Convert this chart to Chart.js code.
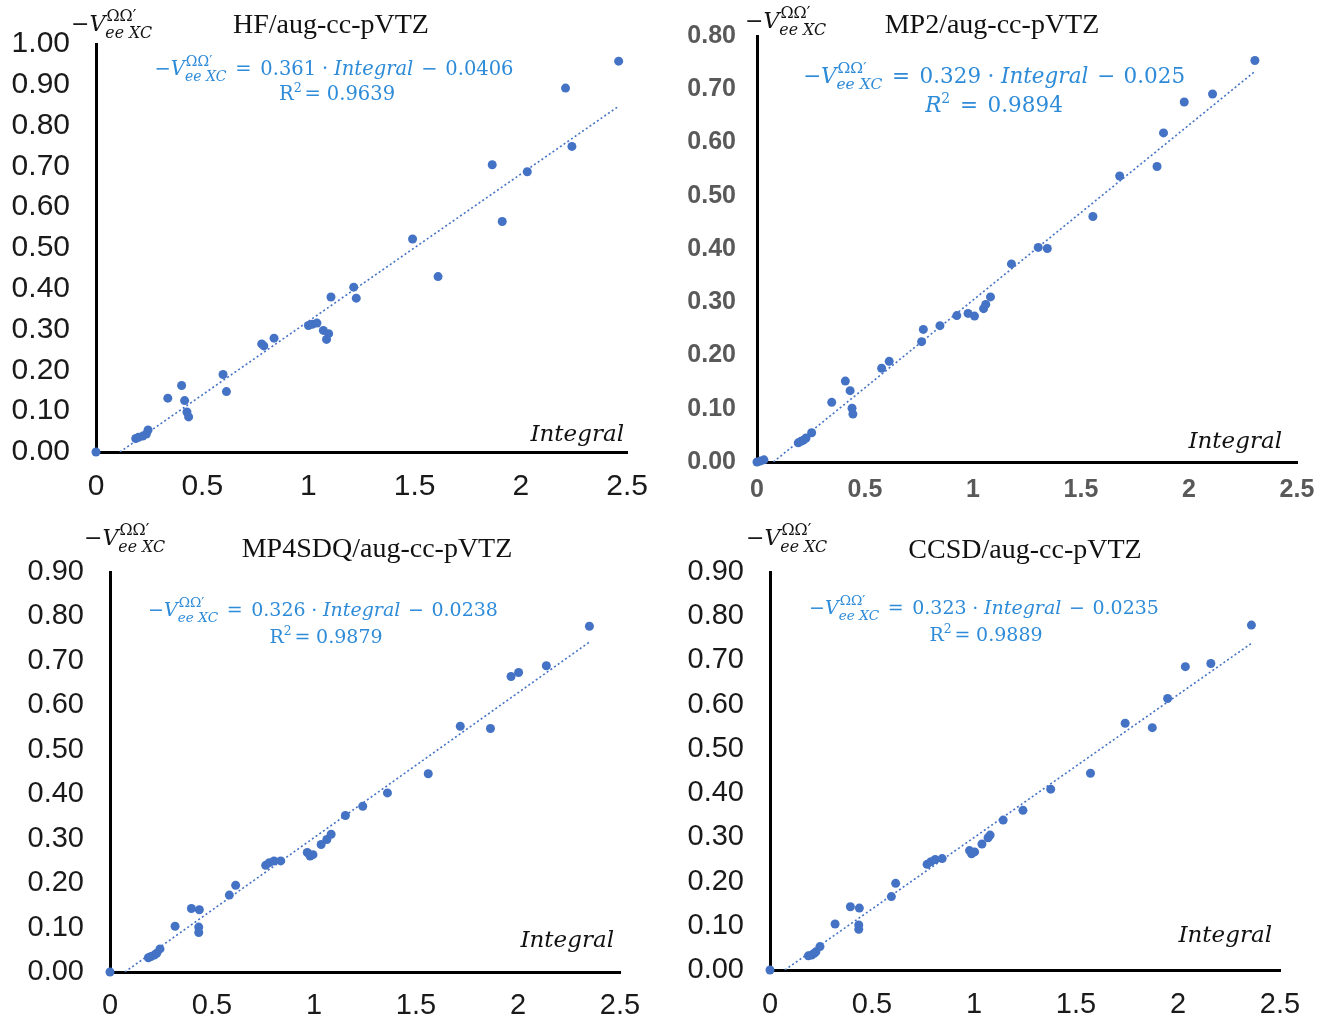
<!DOCTYPE html>
<html>
<head>
<meta charset="utf-8">
<script src="https://cdn.jsdelivr.net/npm/chart.js@4.4.0/dist/chart.umd.min.js"></script>
<style>
  body { margin: 0; background: #fff; }
  #wrap { position: relative; width: 1335px; height: 1027px; overflow: hidden; }
  canvas { position: absolute; }
</style>
</head>
<body>
<div id="wrap">
  <canvas id="hf" width="665" height="512" style="left:0;top:0"></canvas>
  <canvas id="mp2" width="668" height="512" style="left:667px;top:0"></canvas>
  <canvas id="mp4" width="665" height="515" style="left:0;top:512px"></canvas>
  <canvas id="ccsd" width="668" height="515" style="left:667px;top:512px"></canvas>
</div>
<script>
// ---- data ----
// HF/aug-cc-pVTZ
var hf_x = [0, 0.187, 0.20, 0.22, 0.237, 0.245, 0.338, 0.403, 0.417, 0.428, 0.436, 0.598, 0.614, 0.78, 0.79, 0.838, 1.0, 1.018, 1.04, 1.07, 1.085, 1.095, 1.106, 1.213, 1.225, 1.49, 1.61, 1.865, 1.912, 2.03, 2.21, 2.24, 2.46];
var hf_y = [0, 0.033, 0.036, 0.039, 0.044, 0.054, 0.132, 0.163, 0.126, 0.098, 0.086, 0.19, 0.148, 0.265, 0.26, 0.279, 0.31, 0.313, 0.316, 0.298, 0.276, 0.29, 0.38, 0.404, 0.377, 0.522, 0.43, 0.704, 0.565, 0.687, 0.892, 0.749, 0.958];
var hf_fit = [0.361, -0.0406]; // 傾き, 切片
var hf_r2 = '0.9639';

// MP2/aug-cc-pVTZ
var mp2_x = [0, 0.017, 0.032, 0.191, 0.204, 0.215, 0.227, 0.253, 0.346, 0.409, 0.431, 0.44, 0.444, 0.577, 0.612, 0.762, 0.77, 0.847, 0.925, 0.977, 1.007, 1.049, 1.059, 1.081, 1.178, 1.302, 1.344, 1.555, 1.679, 1.852, 1.882, 1.978, 2.109, 2.305];
var mp2_y = [0, 0.002, 0.004, 0.036, 0.039, 0.041, 0.045, 0.055, 0.112, 0.152, 0.134, 0.101, 0.09, 0.176, 0.189, 0.226, 0.249, 0.256, 0.275, 0.279, 0.274, 0.288, 0.296, 0.31, 0.372, 0.403, 0.401, 0.461, 0.537, 0.555, 0.618, 0.676, 0.691, 0.754];
var mp2_fit = [0.329, -0.025];
var mp2_r2 = '0.9894';

// MP4SDQ/aug-cc-pVTZ
var mp4_x = [0, 0.188, 0.201, 0.217, 0.229, 0.245, 0.319, 0.399, 0.438, 0.435, 0.435, 0.585, 0.616, 0.763, 0.781, 0.804, 0.837, 0.967, 0.981, 0.995, 1.035, 1.063, 1.084, 1.154, 1.239, 1.36, 1.56, 1.717, 1.865, 1.966, 2.003, 2.139, 2.35];
var mp4_y = [0, 0.032, 0.035, 0.038, 0.042, 0.052, 0.103, 0.143, 0.14, 0.101, 0.089, 0.173, 0.195, 0.24, 0.246, 0.25, 0.25, 0.269, 0.261, 0.264, 0.287, 0.298, 0.31, 0.352, 0.373, 0.403, 0.446, 0.553, 0.548, 0.665, 0.674, 0.689, 0.778];
var mp4_fit = [0.326, -0.0238];
var mp4_r2 = '0.9879';

// CCSD/aug-cc-pVTZ
var ccsd_x = [0, 0.188, 0.204, 0.217, 0.225, 0.245, 0.319, 0.394, 0.438, 0.435, 0.435, 0.595, 0.616, 0.77, 0.789, 0.81, 0.844, 0.978, 0.988, 1.003, 1.039, 1.069, 1.079, 1.143, 1.24, 1.376, 1.571, 1.741, 1.874, 1.949, 2.036, 2.161, 2.36];
var ccsd_y = [0, 0.032, 0.034, 0.038, 0.041, 0.053, 0.104, 0.143, 0.14, 0.102, 0.092, 0.166, 0.196, 0.239, 0.245, 0.25, 0.252, 0.27, 0.263, 0.267, 0.285, 0.299, 0.305, 0.339, 0.361, 0.409, 0.445, 0.558, 0.548, 0.614, 0.686, 0.693, 0.78];
var ccsd_fit = [0.323, -0.0235];
var ccsd_r2 = '0.9889';

// 目盛り
var x_ticks = [0, 0.5, 1, 1.5, 2, 2.5];
var y_ticks_10 = [0, 0.1, 0.2, 0.3, 0.4, 0.5, 0.6, 0.7, 0.8, 0.9, 1.0];
var y_ticks_08 = [0, 0.1, 0.2, 0.3, 0.4, 0.5, 0.6, 0.7, 0.8];
var y_ticks_09 = [0, 0.1, 0.2, 0.3, 0.4, 0.5, 0.6, 0.7, 0.8, 0.9];

var DOT = '#4472c4';
var EQ = '#2e8bd8';
var MATH = '"DejaVu Serif", serif';

//リッチテキスト（上付き・下付き）
function fontStr(it, size) { return (it ? 'italic ' : '') + size + 'px ' + MATH; }
function partWidth(ctx, p, fs) {
    if (typeof p === 'string') { ctx.font = fontStr(false, fs); return ctx.measureText(p).width; }
    if (p.sp != null) return p.sp * fs;
    if (p.i != null) { ctx.font = fontStr(true, fs); return ctx.measureText(p.i).width; }
    if (p.up != null) { ctx.font = fontStr(false, fs * 0.65); return ctx.measureText(p.up).width; }
    var s = fs * 0.72;
    ctx.font = fontStr(false, s); var w1 = ctx.measureText(p.sup).width;
    ctx.font = fontStr(true, s); var w2 = ctx.measureText(p.sub).width;
    return Math.max(w1, w2);
}
function drawRich(ctx, parts, x, y, fs, color, align) {
    var total = 0;
    parts.forEach(function(p) { total += partWidth(ctx, p, fs); });
    var cx = align === 'center' ? x - total / 2 : (align === 'right' ? x - total : x);
    ctx.fillStyle = color;
    ctx.textAlign = 'left';
    ctx.textBaseline = 'alphabetic';
    parts.forEach(function(p) {
        var w = partWidth(ctx, p, fs);
        if (typeof p === 'string') { ctx.font = fontStr(false, fs); ctx.fillText(p, cx, y); }
        else if (p.i != null) { ctx.font = fontStr(true, fs); ctx.fillText(p.i, cx, y); }
        else if (p.up != null) { ctx.font = fontStr(false, fs * 0.65); ctx.fillText(p.up, cx, y - fs * 0.42); }
        else if (p.sup != null) {
            ctx.font = fontStr(false, fs * 0.72); ctx.fillText(p.sup, cx + fs * 0.05, y - fs * 0.47);
            ctx.font = fontStr(true, fs * 0.72); ctx.fillText(p.sub, cx, y + fs * 0.3);
        }
        cx += w;
    });
}

//注釈（タイトル・回帰式・軸名）
var annotPlugin = {
    id: 'annot',
    afterDraw: function(chart, args, o) {
        var ctx = chart.ctx;
        ctx.save();
        ctx.font = '28px "Liberation Serif", serif';
        ctx.fillStyle = '#111';
        ctx.textAlign = 'center';
        ctx.textBaseline = 'alphabetic';
        ctx.fillText(o.title, o.tx, o.ty);
        var V = ['\u2212', {i: 'V'}, {sup: '\u03A9\u03A9\u2032', sub: 'ee XC'}];
        drawRich(ctx, V, o.vx, o.vy, 22, '#111', 'left');
        var a = o.fit[0], b = o.fit[1];
        var eq = V.concat([{sp: 0.45}, '=', {sp: 0.45}, String(a), {sp: 0.3}, '\u00B7', {sp: 0.3}, {i: 'Integral'},
            {sp: 0.4}, b < 0 ? '\u2212' : '+', {sp: 0.4}, String(Math.abs(b))]);
        drawRich(ctx, eq, o.ex, o.ey, o.efs, EQ, 'center');
        var r = o.r2italic ? [{i: 'R'}, {up: '2'}, {sp: 0.45}, '=', {sp: 0.45}, o.r2] : ['R', {up: '2'}, {sp: 0.15}, '=', {sp: 0.3}, o.r2];
        drawRich(ctx, r, o.rx, o.ry, o.efs, EQ, 'center');
        drawRich(ctx, [{i: 'Integral'}], o.ix, o.iy, 23, '#111', 'right');
        ctx.restore();
    }
};

//グラフの描画設定
function makePanel(id, xs, ys, fit, r2, yTicks, st) {
    var pts = xs.map(function(x, k) { return {x: x, y: ys[k]}; });
    var xmax = Math.max.apply(null, xs);
    var x0 = Math.max(0, -fit[1] / fit[0]);
    var trend = [{x: x0, y: fit[0] * x0 + fit[1]}, {x: xmax, y: fit[0] * xmax + fit[1]}];
    var tickFont = {family: '"Liberation Sans", Arial, sans-serif', size: st.fs, weight: st.bold ? 'bold' : 'normal'};
    return new Chart(document.getElementById(id).getContext('2d'), {
        type: 'scatter',
        data: {
            datasets: [{
                data: pts,
                backgroundColor: DOT,
                borderWidth: 0,
                pointRadius: 4.5,
                clip: false,
                order: 1
            }, {
                type: 'line',
                data: trend,
                borderColor: DOT,
                borderWidth: 1.6,
                borderDash: [2, 2.5],
                pointRadius: 0,
                fill: false,
                order: 2
            }]
        },
        options: {
            responsive: false,
            animation: false,
            events: [],
            layout: {padding: {top: st.top, right: st.right, left: 0, bottom: 0}},
            plugins: {
                legend: {display: false},
                tooltip: {enabled: false},
                annot: st.annot
            },
            scales: {
                x: {
                    type: 'linear', min: 0, max: 2.5,
                    grid: {display: false, drawTicks: false},
                    border: {display: true, color: '#000', width: 3},
                    afterBuildTicks: function(s) { s.ticks = x_ticks.map(function(v) { return {value: v}; }); },
                    afterFit: function(s) { s.height = st.xh; },
                    ticks: {autoSkip: false, maxRotation: 0, padding: st.xpad, color: st.color, font: tickFont,
                        callback: function(v) { return String(v); }}
                },
                y: {
                    type: 'linear', min: 0, max: yTicks[yTicks.length - 1],
                    grid: {display: false, drawTicks: false},
                    border: {display: true, color: '#000', width: 3},
                    afterBuildTicks: function(s) { s.ticks = yTicks.map(function(v) { return {value: v}; }); },
                    afterFit: function(s) { s.width = st.yw; },
                    ticks: {autoSkip: false, padding: st.ypad, color: st.color, font: tickFont,
                        callback: function(v) { return v.toFixed(2); }}
                }
            }
        },
        plugins: [annotPlugin]
    });
}

makePanel('hf', hf_x, hf_y, hf_fit, hf_r2, y_ticks_10, {
    top: 41, right: 34, yw: 96, xh: 60, fs: 30, bold: false, color: '#1a1a1a', xpad: 17, ypad: 26,
    annot: {title: 'HF/aug-cc-pVTZ', tx: 331, ty: 33, vx: 71, vy: 31, fit: hf_fit, ex: 334, ey: 75, efs: 19.5,
        r2: hf_r2, rx: 337, ry: 100, r2italic: false, ix: 624, iy: 441}
});
makePanel('mp2', mp2_x, mp2_y, mp2_fit, mp2_r2, y_ticks_08, {
    top: 35, right: 38, yw: 90, xh: 50, fs: 25, bold: true, color: '#595959', xpad: 13, ypad: 21,
    annot: {title: 'MP2/aug-cc-pVTZ', tx: 325, ty: 33, vx: 78, vy: 28, fit: mp2_fit, ex: 327, ey: 83, efs: 21.5,
        r2: mp2_r2, rx: 327, ry: 112, r2italic: true, ix: 615, iy: 448}
});
makePanel('mp4', mp4_x, mp4_y, mp4_fit, mp4_r2, y_ticks_09, {
    top: 60, right: 45, yw: 110, xh: 55, fs: 29, bold: false, color: '#1a1a1a', xpad: 17, ypad: 26,
    annot: {title: 'MP4SDQ/aug-cc-pVTZ', tx: 377, ty: 45, vx: 84, vy: 33, fit: mp4_fit, ex: 323, ey: 104, efs: 19,
        r2: mp4_r2, rx: 326, ry: 131, r2italic: false, ix: 614, iy: 435}
});
makePanel('ccsd', ccsd_x, ccsd_y, ccsd_fit, ccsd_r2, y_ticks_09, {
    top: 60, right: 55, yw: 103, xh: 57, fs: 29, bold: false, color: '#1a1a1a', xpad: 18, ypad: 26,
    annot: {title: 'CCSD/aug-cc-pVTZ', tx: 358, ty: 46, vx: 79, vy: 33, fit: ccsd_fit, ex: 317, ey: 102, efs: 19,
        r2: ccsd_r2, rx: 319, ry: 129, r2italic: false, ix: 605, iy: 430}
});
</script>
</body>
</html>
